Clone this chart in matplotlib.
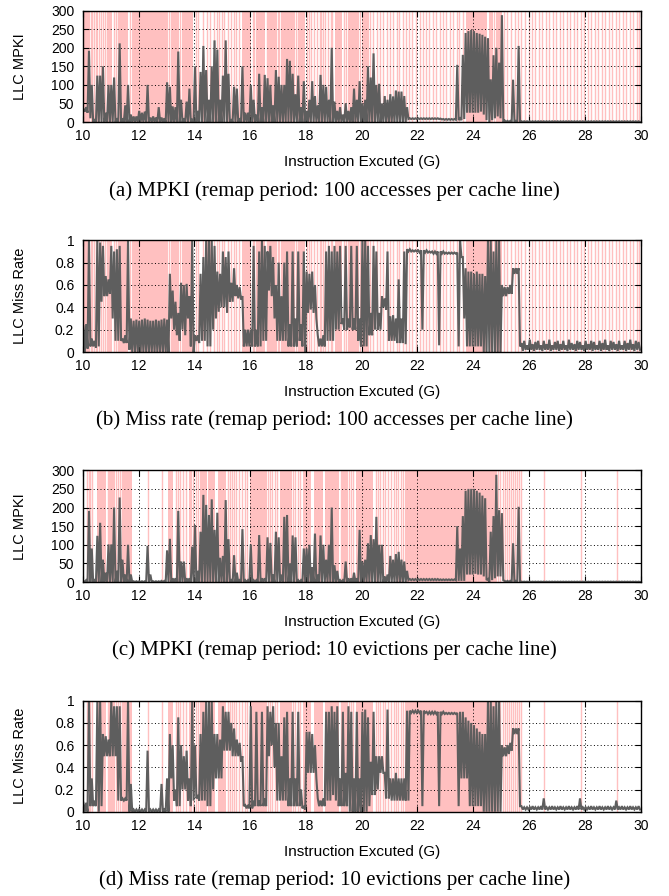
import numpy as np
import matplotlib
matplotlib.use("Agg")
import matplotlib.pyplot as plt

# ---------------- data: per 0.1G bin (10.0 .. 29.9), max / min of the series -------------
bin_start = 10.0
bin_width = 0.1

# (a) LLC MPKI, remap period 100 accesses per cache line
a_hi = [35, 40, 192, 100, 5, 125, 125, 150, 25, 100,
        100, 120, 10, 212, 10, 45, 100, 20, 15, 15,
        30, 25, 28, 100, 12, 15, 12, 40, 12, 10,
        107, 95, 42, 40, 190, 60, 10, 55, 90, 8,
        150, 30, 135, 205, 140, 60, 150, 220, 195, 60,
        125, 220, 130, 5, 95, 90, 10, 150, 25, 25,
        100, 60, 20, 130, 40, 127, 118, 100, 45, 140,
        122, 100, 100, 170, 165, 130, 75, 125, 40, 110,
        30, 60, 110, 70, 45, 127, 100, 95, 60, 200,
        55, 30, 40, 20, 50, 30, 40, 90, 60, 110,
        50, 60, 150, 120, 185, 100, 103, 50, 70, 60,
        75, 69, 85, 82, 82, 70, 40, 10, 10, 10,
        10, 10, 10, 10, 10, 10, 10, 10, 9, 8,
        8, 8, 8, 8, 154, 10, 181, 240, 245, 248,
        245, 240, 238, 235, 230, 226, 115, 180, 200, 160,
        288, 4, 3, 3, 114, 3, 205, 2, 2, 2,
        2, 2, 2, 2, 2, 2, 2, 2, 2, 2,
        2, 2, 2, 2, 2, 2, 2, 2, 2, 2,
        2, 2, 2, 2, 2, 2, 2, 2, 2, 2,
        2, 2, 2, 2, 2, 2, 2, 2, 2, 2]
a_lo = [28, 25, 10, 0, 0, 0, 0, 0, 0, 0,
        0, 0, 0, 0, 0, 0, 0, 0, 0, 0,
        0, 0, 0, 0, 0, 0, 0, 0, 0, 0,
        0, 0, 0, 0, 0, 0, 0, 0, 0, 0,
        0, 0, 0, 0, 0, 0, 0, 0, 0, 0,
        0, 0, 0, 0, 0, 0, 0, 0, 0, 0,
        0, 0, 0, 0, 0, 0, 0, 0, 0, 0,
        0, 0, 0, 0, 0, 0, 0, 0, 0, 0,
        0, 0, 0, 0, 0, 0, 0, 0, 0, 0,
        0, 0, 0, 0, 0, 0, 0, 0, 0, 0,
        0, 0, 0, 0, 0, 0, 0, 0, 0, 0,
        0, 0, 0, 0, 0, 0, 8, 8, 8, 8,
        8, 8, 8, 8, 8, 8, 8, 8, 7, 6,
        6, 6, 6, 6, 5, 5, 8, 25, 25, 25,
        25, 25, 28, 20, 5, 0, 5, 10, 15, 10,
        0, 0, 0, 0, 0, 0, 0, 0, 0, 0,
        0, 0, 0, 0, 0, 0, 0, 0, 0, 0,
        0, 0, 0, 0, 0, 0, 0, 0, 0, 0,
        0, 0, 0, 0, 0, 0, 0, 0, 0, 0,
        0, 0, 0, 0, 0, 0, 0, 0, 0, 0]

# (b) LLC miss rate, remap period 100 accesses per cache line
b_hi = [0.23, 0.25, 1.0, 0.12, 0.1, 1.0, 0.98, 0.95, 0.68, 0.65,
        0.95, 0.9, 0.92, 0.95, 0.12, 0.15, 1.0, 0.3, 0.28, 0.29,
        0.28, 0.29, 0.3, 0.29, 0.28, 0.28, 0.29, 0.28, 0.29, 0.3,
        0.29, 0.7, 0.55, 0.45, 0.35, 0.62, 0.6, 0.61, 0.5, 1.0,
        0.15, 0.15, 0.7, 0.85, 1.0, 1.0, 1.0, 0.95, 0.72, 0.7,
        0.9, 0.85, 0.9, 0.62, 0.75, 0.6, 0.58, 0.5, 0.2, 0.2,
        0.2, 0.95, 0.2, 0.9, 1.0, 0.95, 0.9, 0.95, 0.85, 0.6,
        0.8, 0.5, 0.8, 0.9, 0.25, 0.9, 0.3, 0.9, 0.25, 0.9,
        0.72, 0.7, 0.72, 0.6, 0.15, 0.12, 0.15, 0.9, 0.95, 0.9,
        0.95, 0.9, 0.95, 0.3, 0.95, 0.3, 0.95, 0.3, 0.95, 0.3,
        1.0, 1.0, 0.95, 0.35, 0.95, 0.9, 0.35, 0.5, 0.48, 0.9,
        0.32, 0.33, 0.3, 0.65, 0.3, 0.9, 0.92, 0.92, 0.91, 0.91,
        0.91, 0.91, 0.91, 0.91, 0.9, 0.9, 0.9, 0.9, 0.9, 0.9,
        0.89, 0.89, 0.89, 0.89, 0.89, 1.0, 0.85, 0.75, 0.72, 0.72,
        0.7, 0.72, 0.7, 0.7, 0.68, 1.0, 1.0, 0.9, 1.0, 1.0,
        0.6, 0.58, 0.58, 0.6, 0.75, 0.75, 0.75, 0.08, 0.1, 0.06,
        0.11, 0.07, 0.09, 0.1, 0.06, 0.1, 0.07, 0.11, 0.06, 0.09,
        0.1, 0.07, 0.1, 0.06, 0.11, 0.08, 0.07, 0.1, 0.09, 0.06,
        0.1, 0.07, 0.1, 0.09, 0.06, 0.1, 0.08, 0.11, 0.06, 0.1,
        0.09, 0.07, 0.1, 0.06, 0.1, 0.08, 0.11, 0.07, 0.1, 0.09]
b_lo = [0.0, 0.03, 0.05, 0.05, 0.04, 0.05, 0.45, 0.5, 0.5, 0.52,
        0.3, 0.1, 0.1, 0.1, 0.08, 0.08, 0.02, 0.0, 0.0, 0.0,
        0.0, 0.0, 0.0, 0.0, 0.0, 0.0, 0.0, 0.0, 0.0, 0.0,
        0.0, 0.3, 0.2, 0.15, 0.1, 0.2, 0.15, 0.3, 0.05, 0.0,
        0.1, 0.08, 0.1, 0.1, 0.05, 0.05, 0.2, 0.3, 0.36, 0.4,
        0.4, 0.35, 0.45, 0.45, 0.5, 0.48, 0.47, 0.05, 0.05, 0.05,
        0.05, 0.05, 0.05, 0.05, 0.1, 0.1, 0.55, 0.5, 0.3, 0.1,
        0.1, 0.1, 0.1, 0.05, 0.05, 0.05, 0.05, 0.1, 0.05, 0.0,
        0.35, 0.38, 0.35, 0.3, 0.05, 0.05, 0.05, 0.1, 0.1, 0.1,
        0.2, 0.2, 0.25, 0.2, 0.2, 0.22, 0.2, 0.2, 0.1, 0.05,
        0.05, 0.05, 0.15, 0.15, 0.2, 0.2, 0.2, 0.4, 0.38, 0.1,
        0.1, 0.1, 0.08, 0.08, 0.08, 0.07, 0.9, 0.9, 0.9, 0.9,
        0.89, 0.2, 0.89, 0.89, 0.89, 0.88, 0.88, 0.06, 0.88, 0.88,
        0.88, 0.88, 0.88, 0.88, 0.05, 0.85, 0.3, 0.05, 0.05, 0.05,
        0.05, 0.05, 0.05, 0.0, 0.0, 0.0, 0.0, 0.0, 0.0, 0.0,
        0.5, 0.5, 0.52, 0.52, 0.7, 0.7, 0.05, 0.01, 0.02, 0.02,
        0.02, 0.01, 0.02, 0.02, 0.01, 0.02, 0.02, 0.01, 0.02, 0.02,
        0.01, 0.02, 0.02, 0.01, 0.02, 0.02, 0.01, 0.02, 0.02, 0.01,
        0.02, 0.02, 0.01, 0.02, 0.02, 0.01, 0.02, 0.02, 0.01, 0.02,
        0.02, 0.01, 0.02, 0.02, 0.01, 0.02, 0.02, 0.01, 0.02, 0.02]

# (c) LLC MPKI, remap period 10 evictions per cache line
c_hi = [3, 5, 191, 90, 5, 124, 159, 60, 25, 101,
        101, 200, 30, 227, 60, 20, 100, 20, 2, 2,
        2, 2, 2, 97, 20, 2, 2, 2, 3, 3,
        85, 116, 10, 10, 191, 55, 55, 10, 10, 95,
        153, 30, 135, 234, 207, 180, 222, 140, 186, 65,
        70, 220, 115, 5, 72, 25, 5, 142, 5, 5,
        101, 5, 5, 126, 10, 10, 120, 105, 20, 135,
        120, 20, 175, 180, 50, 125, 120, 5, 5, 90,
        90, 100, 40, 130, 20, 125, 100, 60, 100, 200,
        45, 30, 5, 5, 55, 10, 10, 25, 10, 140,
        55, 60, 104, 126, 115, 175, 100, 100, 15, 20,
        70, 60, 75, 81, 60, 55, 30, 8, 8, 8,
        8, 8, 8, 8, 8, 8, 8, 8, 7, 7,
        7, 7, 7, 7, 150, 90, 177, 245, 250, 250,
        250, 245, 240, 232, 225, 8, 135, 177, 288, 193,
        185, 3, 3, 3, 104, 3, 202, 1, 1, 1,
        1, 1, 1, 1, 1, 1, 1, 1, 1, 1,
        1, 1, 1, 1, 1, 1, 1, 1, 1, 1,
        1, 1, 1, 1, 1, 1, 1, 1, 1, 1,
        1, 1, 1, 1, 1, 1, 1, 1, 1, 1]
c_lo = [0, 0, 0, 0, 0, 0, 0, 0, 0, 0,
        0, 0, 0, 0, 0, 0, 0, 0, 0, 0,
        0, 0, 0, 0, 0, 0, 0, 0, 0, 0,
        0, 0, 0, 0, 0, 0, 0, 0, 0, 0,
        0, 0, 0, 0, 0, 0, 0, 0, 0, 0,
        0, 0, 0, 0, 0, 0, 0, 0, 0, 0,
        0, 0, 0, 0, 0, 0, 0, 0, 0, 0,
        0, 0, 0, 0, 0, 0, 0, 0, 0, 0,
        0, 0, 0, 0, 0, 0, 0, 0, 0, 0,
        0, 0, 0, 0, 0, 0, 0, 0, 0, 0,
        0, 0, 0, 0, 0, 0, 0, 0, 0, 0,
        0, 0, 0, 0, 0, 0, 5, 5, 5, 5,
        5, 5, 5, 5, 5, 5, 5, 5, 5, 5,
        5, 5, 5, 5, 3, 3, 3, 20, 20, 20,
        22, 20, 20, 15, 5, 0, 5, 10, 15, 15,
        5, 0, 0, 0, 0, 0, 0, 0, 0, 0,
        0, 0, 0, 0, 0, 0, 0, 0, 0, 0,
        0, 0, 0, 0, 0, 0, 0, 0, 0, 0,
        0, 0, 0, 0, 0, 0, 0, 0, 0, 0,
        0, 0, 0, 0, 0, 0, 0, 0, 0, 0]

# (d) LLC miss rate, remap period 10 evictions per cache line
d_hi = [0.08, 0.08, 1.0, 0.3, 0.1, 1.0, 1.0, 0.7, 0.68, 0.65,
        1.0, 0.95, 0.95, 0.95, 0.12, 0.12, 1.0, 0.25, 0.02, 0.02,
        0.02, 0.02, 0.02, 0.55, 0.02, 0.02, 0.02, 0.02, 0.25, 0.02,
        0.3, 0.7, 0.6, 0.2, 0.85, 0.6, 0.5, 0.55, 0.3, 1.0,
        0.6, 0.15, 0.7, 0.9, 1.0, 1.0, 1.0, 0.7, 0.7, 0.65,
        0.95, 0.9, 0.9, 0.8, 0.75, 0.65, 0.62, 0.5, 0.06, 0.06,
        0.95, 0.1, 0.9, 0.1, 0.9, 0.12, 0.95, 0.9, 0.95, 0.8,
        0.8, 0.5, 0.85, 0.9, 0.3, 0.9, 0.3, 0.9, 0.2, 0.05,
        0.72, 0.72, 0.7, 0.6, 0.12, 0.1, 0.12, 0.9, 0.9, 0.95,
        0.9, 0.95, 0.3, 0.9, 0.35, 0.95, 0.9, 0.3, 0.9, 0.3,
        0.9, 0.92, 0.85, 0.45, 0.9, 0.5, 0.5, 0.5, 0.35, 0.92,
        0.3, 0.3, 0.35, 0.3, 0.3, 0.3, 0.91, 0.91, 0.91, 0.91,
        0.91, 0.91, 0.91, 0.9, 0.9, 0.9, 0.9, 0.9, 0.9, 0.9,
        0.89, 0.89, 0.89, 0.89, 0.89, 0.9, 0.9, 0.85, 0.82, 0.8,
        0.78, 0.75, 0.72, 0.7, 0.7, 1.0, 1.0, 0.95, 1.0, 1.0,
        0.6, 0.58, 0.6, 0.62, 0.75, 0.75, 0.75, 0.05, 0.04, 0.04,
        0.04, 0.05, 0.04, 0.04, 0.05, 0.12, 0.04, 0.04, 0.05, 0.04,
        0.04, 0.05, 0.04, 0.04, 0.05, 0.04, 0.04, 0.05, 0.12, 0.04,
        0.04, 0.04, 0.05, 0.04, 0.04, 0.05, 0.04, 0.04, 0.05, 0.04,
        0.04, 0.1, 0.04, 0.05, 0.04, 0.04, 0.05, 0.04, 0.04, 0.05]
d_lo = [0.0, 0.0, 0.05, 0.05, 0.05, 0.0, 0.05, 0.5, 0.5, 0.5,
        0.5, 0.5, 0.1, 0.1, 0.1, 0.1, 0.0, 0.0, 0.0, 0.0,
        0.0, 0.0, 0.0, 0.0, 0.0, 0.0, 0.0, 0.0, 0.0, 0.0,
        0.0, 0.3, 0.1, 0.05, 0.05, 0.2, 0.2, 0.1, 0.05, 0.1,
        0.12, 0.1, 0.1, 0.1, 0.05, 0.05, 0.2, 0.3, 0.3, 0.3,
        0.55, 0.55, 0.55, 0.5, 0.5, 0.5, 0.45, 0.05, 0.03, 0.03,
        0.03, 0.05, 0.05, 0.05, 0.05, 0.05, 0.5, 0.6, 0.4, 0.1,
        0.1, 0.1, 0.1, 0.05, 0.05, 0.05, 0.05, 0.05, 0.03, 0.02,
        0.35, 0.35, 0.35, 0.3, 0.05, 0.05, 0.05, 0.1, 0.1, 0.15,
        0.1, 0.05, 0.05, 0.05, 0.05, 0.0, 0.0, 0.0, 0.0, 0.0,
        0.0, 0.0, 0.05, 0.15, 0.15, 0.2, 0.35, 0.35, 0.12, 0.12,
        0.1, 0.1, 0.1, 0.1, 0.1, 0.1, 0.1, 0.89, 0.89, 0.89,
        0.89, 0.05, 0.89, 0.88, 0.88, 0.88, 0.88, 0.05, 0.88, 0.88,
        0.88, 0.88, 0.88, 0.88, 0.05, 0.3, 0.3, 0.3, 0.05, 0.05,
        0.05, 0.05, 0.05, 0.0, 0.0, 0.0, 0.0, 0.0, 0.0, 0.0,
        0.5, 0.5, 0.52, 0.55, 0.7, 0.7, 0.05, 0.02, 0.02, 0.02,
        0.02, 0.02, 0.02, 0.02, 0.02, 0.02, 0.02, 0.02, 0.02, 0.02,
        0.02, 0.02, 0.02, 0.02, 0.02, 0.02, 0.02, 0.02, 0.02, 0.02,
        0.02, 0.02, 0.02, 0.02, 0.02, 0.02, 0.02, 0.02, 0.02, 0.02,
        0.02, 0.02, 0.02, 0.02, 0.02, 0.02, 0.02, 0.02, 0.02, 0.02]

# remap events (pink): dense stretches and single events
remap_spans_100acc = [(10.0, 10.25), (10.5, 10.55), (10.92, 11.05), (11.3, 11.62),
                      (11.75, 13.05), (13.2, 13.45), (13.55, 13.95), (15.7, 16.05),
                      (16.2, 16.55), (16.65, 16.95), (17.1, 17.6), (17.75, 17.97),
                      (19.05, 19.3), (19.5, 19.9), (20.0, 20.25), (23.75, 24.5),
                      (24.55, 24.7), (24.8, 25.02)]
remap_lines_100acc = [10.3, 10.35, 10.42, 10.47, 10.6, 10.65, 10.72, 10.8, 10.87, 11.12,
                      11.2, 11.25, 11.7, 13.1, 13.15, 13.5, 14.05, 14.15, 14.3, 14.45,
                      14.55, 14.7, 14.8, 14.9, 15.0, 15.08, 15.2, 15.3, 15.42, 15.5,
                      15.6, 16.1, 16.15, 16.6, 17.0, 17.05, 17.65, 17.7, 18.05, 18.12,
                      18.2, 18.3, 18.4, 18.5, 18.55, 18.62, 18.7, 18.8, 18.9, 18.95,
                      19.35, 19.42, 19.95, 20.3, 20.42, 20.55, 20.65, 20.78, 20.9, 21.0,
                      21.12, 21.25, 21.35, 21.48, 21.6, 21.7, 21.82, 21.95, 22.08, 22.2,
                      22.3, 22.42, 22.55, 22.68, 22.8, 22.9, 23.02, 23.15, 23.28, 23.4,
                      23.5, 23.62, 24.75, 25.1, 25.22, 25.35, 25.48, 25.6, 25.72, 25.85,
                      25.98, 26.1, 26.22, 26.35, 26.48, 26.6, 26.72, 26.85, 26.98, 27.1,
                      27.22, 27.35, 27.48, 27.6, 27.72, 27.85, 27.98, 28.1, 28.22, 28.35,
                      28.48, 28.6, 28.72, 28.85, 28.98, 29.1, 29.22, 29.35, 29.48, 29.6,
                      29.72, 29.85, 29.95]
remap_spans_10ev = [(10.5, 10.85), (10.95, 11.15), (11.45, 11.75), (13.07, 13.25),
                    (13.8, 13.9), (14.2, 14.45), (14.5, 14.75), (14.85, 15.15),
                    (16.0, 16.6), (17.07, 17.5), (17.9, 18.2), (18.3, 18.6),
                    (18.7, 19.2), (19.3, 19.5), (19.8, 20.42), (21.55, 24.84)]
remap_lines_10ev = [10.15, 10.22, 10.27, 10.32, 10.9, 11.2, 11.25, 11.32, 11.4, 12.33,
                    12.85, 13.35, 13.42, 13.5, 13.6, 13.7, 13.95, 14.05, 14.12, 15.2,
                    15.28, 15.35, 15.42, 15.5, 15.62, 15.7, 15.8, 15.9, 16.65, 16.72,
                    16.8, 16.9, 16.98, 17.55, 17.62, 17.7, 17.8, 19.25, 19.55, 19.62,
                    19.7, 20.5, 20.58, 20.65, 20.75, 20.85, 20.95, 21.05, 21.15, 21.22,
                    21.3, 21.4, 21.48, 24.9, 24.95, 25.05, 25.12, 25.2, 25.28, 25.35,
                    25.42, 25.5, 25.58, 25.65, 25.72, 26.55, 27.85, 29.16]

x_ticks = [10, 12, 14, 16, 18, 20, 22, 24, 26, 28, 30]
mpki_ticks = [0, 50, 100, 150, 200, 250, 300]
rate_ticks = [0, 0.2, 0.4, 0.6, 0.8, 1.0]
rate_labels = ["0", "0.2", "0.4", "0.6", "0.8", "1"]
x_label = "Instruction Excuted (G)"
captions = ["(a) MPKI (remap period: 100 accesses per cache line)",
            "(b) Miss rate (remap period: 100 accesses per cache line)",
            "(c) MPKI (remap period: 10 evictions per cache line)",
            "(d) Miss rate (remap period: 10 evictions per cache line)"]

# ---------------- drawing ----------------
W, H = 669, 896
fig = plt.figure(figsize=(W / 100, H / 100), dpi=100)
SANS = ["Liberation Sans", "DejaVu Sans"]
SERIF = ["Liberation Serif", "DejaVu Serif"]
PINK = "#ffc0c0"
GRAY = "#5e5e5e"

left_px, right_px = 82.7, 640.7
panels = [
    (10.7, 122.0, a_hi, a_lo, remap_spans_100acc, remap_lines_100acc, "LLC MPKI", 300, mpki_ticks, None, 191),
    (240.3, 352.0, b_hi, b_lo, remap_spans_100acc, remap_lines_100acc, "LLC Miss Rate", 1.0, rate_ticks, rate_labels, 420),
    (470.3, 582.0, c_hi, c_lo, remap_spans_10ev, remap_lines_10ev, "LLC MPKI", 300, mpki_ticks, None, 650),
    (700.7, 811.7, d_hi, d_lo, remap_spans_10ev, remap_lines_10ev, "LLC Miss Rate", 1.0, rate_ticks, rate_labels, 880),
]


def zigzag(hi, lo):
    n = len(hi)
    starts = bin_start + bin_width * np.arange(n)
    xs = np.empty(2 * n)
    ys = np.empty(2 * n)
    xs[0::2] = starts + 0.25 * bin_width
    xs[1::2] = starts + 0.75 * bin_width
    ys[0::2] = hi
    ys[1::2] = lo
    return xs, ys


for top, bot, hi, lo, spans, lines, ylab, ymax, yt, ytl, cap_y in panels:
    ax = fig.add_axes([left_px / W, 1 - bot / H, (right_px - left_px) / W, (bot - top) / H])
    for s, e in spans:
        ax.axvspan(s, e, color=PINK, lw=0, zorder=0.5)
    for x in lines:
        ax.axvline(x, color=PINK, lw=1.0, zorder=0.6)
    xs, ys = zigzag(hi, lo)
    ax.plot(xs, ys, color=GRAY, lw=1.5, zorder=3, solid_joinstyle="miter")
    ax.set_xlim(10, 30)
    ax.set_ylim(0, ymax)
    ax.set_xticks(x_ticks)
    ax.set_yticks(yt)
    if ytl is not None:
        ax.set_yticklabels(ytl)
    ax.set_axisbelow("line")
    ax.grid(True, color="black", lw=0.7, ls=(0, (1, 2.5)))
    ax.tick_params(direction="in", length=4, width=0.8, top=True, right=True,
                   labelsize=10, pad=5)
    ax.tick_params(axis="y", pad=6)
    for lab in ax.get_xticklabels() + ax.get_yticklabels():
        lab.set_family(SANS)
    for sp in ax.spines.values():
        sp.set_linewidth(1.0)
        sp.set_color("black")
        sp.set_zorder(4)
    fig.text(20 / W, 1 - (top + bot) / 2 / H, ylab, rotation=90, ha="center", va="center",
             fontsize=10.5, family=SANS)
    fig.text((left_px + right_px) / 2 / W, 1 - (bot + 40) / H, x_label, ha="center",
             va="center", fontsize=11, family=SANS)

for (top, bot, *_rest), cap in zip(panels, captions):
    cap_y = _rest[-1]
    fig.text(0.5, 1 - cap_y / H, cap, ha="center", va="center", fontsize=15, family=SERIF)

fig.savefig("out.png", dpi=100)
